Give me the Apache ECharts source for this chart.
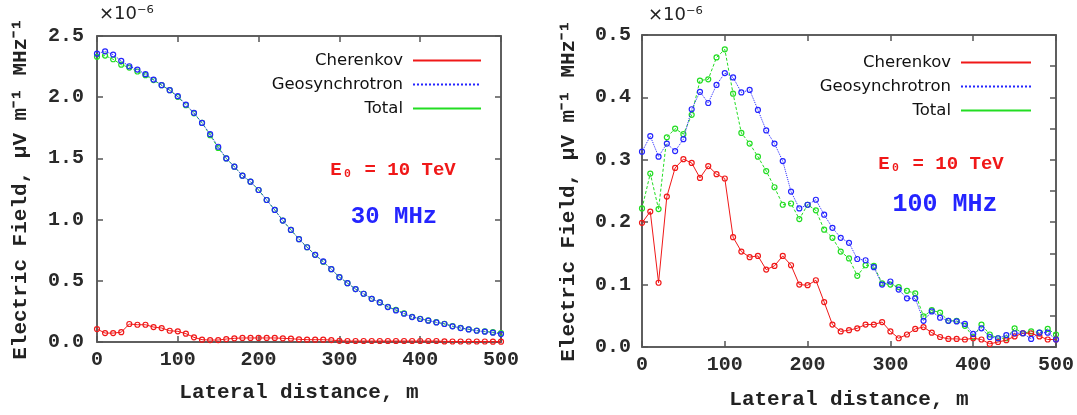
<!DOCTYPE html>
<html><head><meta charset="utf-8">
<script src="https://cdn.jsdelivr.net/npm/echarts@6/dist/echarts.min.js"></script>
<style>html,body{margin:0;padding:0;background:#fff}#c{width:1077px;height:415px}</style>
</head><body><div id="c"></div>
<script>
// Lateral distance (m)
const distance = [0,10,20,30,40,50,60,70,80,90,100,110,120,130,140,150,160,170,180,190,200,210,220,230,240,250,260,270,280,290,300,310,320,330,340,350,360,370,380,390,400,410,420,430,440,450,460,470,480,490,500];

// 30 MHz panel (x1e-6 µV m^-1 MHz^-1)
const cher30 = [0.106,0.073,0.073,0.080,0.147,0.141,0.141,0.122,0.114,0.092,0.087,0.068,0.038,0.019,0.016,0.016,0.024,0.030,0.033,0.033,0.033,0.033,0.033,0.030,0.027,0.022,0.019,0.019,0.019,0.016,0.010,0.008,0.008,0.008,0.008,0.008,0.008,0.008,0.008,0.008,0.008,0.008,0.008,0.005,0.004,0.004,0.004,0.004,0.004,0.003,0.003];
const geo30 = [2.356,2.375,2.348,2.296,2.253,2.226,2.188,2.144,2.098,2.057,2.008,1.940,1.872,1.790,1.698,1.595,1.500,1.432,1.359,1.310,1.242,1.160,1.079,0.992,0.916,0.840,0.774,0.712,0.658,0.595,0.530,0.481,0.432,0.394,0.353,0.323,0.285,0.258,0.231,0.204,0.188,0.174,0.160,0.147,0.128,0.114,0.103,0.092,0.084,0.076,0.065];
const total30 = [2.330,2.340,2.310,2.266,2.242,2.210,2.180,2.140,2.098,2.057,2.003,1.935,1.868,1.790,1.690,1.585,1.500,1.432,1.359,1.310,1.242,1.160,1.079,0.992,0.916,0.840,0.774,0.712,0.655,0.595,0.530,0.481,0.432,0.394,0.353,0.323,0.288,0.262,0.235,0.206,0.190,0.176,0.162,0.149,0.130,0.115,0.104,0.094,0.087,0.080,0.072];

// 100 MHz panel
const cher100 = [0.199,0.217,0.103,0.241,0.287,0.301,0.295,0.271,0.290,0.277,0.270,0.176,0.153,0.144,0.146,0.124,0.130,0.146,0.131,0.100,0.099,0.107,0.072,0.036,0.025,0.027,0.030,0.036,0.036,0.040,0.025,0.014,0.020,0.029,0.032,0.023,0.016,0.013,0.013,0.012,0.014,0.012,0.005,0.008,0.011,0.017,0.022,0.022,0.017,0.012,0.012];
const geo100 = [0.313,0.338,0.305,0.326,0.314,0.333,0.381,0.409,0.391,0.420,0.439,0.432,0.408,0.412,0.380,0.347,0.326,0.298,0.249,0.222,0.228,0.236,0.212,0.191,0.175,0.167,0.141,0.139,0.128,0.100,0.105,0.092,0.078,0.078,0.042,0.057,0.047,0.042,0.041,0.037,0.021,0.030,0.016,0.014,0.019,0.022,0.022,0.013,0.023,0.023,0.012];
const total100 = [0.222,0.278,0.221,0.336,0.350,0.341,0.372,0.427,0.429,0.464,0.477,0.406,0.343,0.326,0.305,0.282,0.256,0.228,0.230,0.205,0.228,0.219,0.188,0.175,0.153,0.142,0.114,0.131,0.130,0.102,0.100,0.096,0.090,0.086,0.049,0.059,0.055,0.042,0.042,0.034,0.016,0.036,0.020,0.014,0.014,0.030,0.022,0.025,0.023,0.029,0.020];

const seriesNames = ['Cherenkov','Geosynchrotron','Total'];
const colors = ['#f01818','#2424ff','#22dd22'];
const lineTypes = ['solid','dotted',[3,2]];

const mono = 'Liberation Mono';
const pts = ys => distance.map((d,i)=>[d, ys[i]]);

function mkSeries(idx, data, gi){
  return {
    name: seriesNames[idx], type:'line', xAxisIndex: gi*2, yAxisIndex: gi*2,
    data: pts(data), symbol:'circle', symbolSize:5, showSymbol:true,
    lineStyle:{color:colors[idx], width:1, type: lineTypes[idx]},
    itemStyle:{color:'rgba(255,255,255,0)', borderColor:colors[idx], borderWidth:1.2},
    emphasis:{disabled:true}, animation:false, z: idx===0?3:(idx===1?4:2)
  };
}

const gridPos = [
  {left:97, right:1077-501, top:36, bottom:415-342},
  {left:642, right:1077-1056, top:35, bottom:415-347}
];
const grids = gridPos.map(g => Object.assign({show:true, borderColor:'#555', borderWidth:1.5, backgroundColor:'transparent'}, g));
const yMax = [2.5, 0.5], yInt=[0.5,0.1], ySplit=[0.5,0.05];
const mkTick = () => ({show:true, inside:true, length:6, lineStyle:{color:'#555', width:1.5}});
const mkLine = () => ({show:true, onZero:false, lineStyle:{color:'#555', width:1.5}});

const xAxes=[], yAxes=[];
gridPos.forEach((g,gi)=>{
  xAxes.push({type:'value', gridIndex:gi, min:0, max:500, interval:100, position:'bottom',
    name:'Lateral distance, m', nameLocation:'middle', nameGap: gi===0?40:42,
    nameTextStyle:{fontFamily:mono, fontWeight:'bold', fontSize:21, color:'#222'},
    axisLine:mkLine(), axisTick:mkTick(),
    axisLabel:{fontFamily:mono, fontWeight:'bold', fontSize:20, color:'#2a2a2a', margin:8},
    splitLine:{show:false}});
  xAxes.push({type:'value', gridIndex:gi, min:0, max:500, interval:100, position:'top',
    axisLine:mkLine(), axisTick:mkTick(), axisLabel:{show:false}, splitLine:{show:false}});
  yAxes.push({type:'value', gridIndex:gi, min:0, max:yMax[gi], interval:yInt[gi], position:'left',
    name:'Electric Field, μV m⁻¹ MHz⁻¹', nameLocation:'middle', nameRotate:90, nameGap: gi===0?66:63,
    nameTextStyle:{fontFamily:mono, fontWeight:'bold', fontSize:21, color:'#222'},
    axisLine:mkLine(), axisTick:mkTick(),
    axisLabel:{fontFamily:mono, fontWeight:'bold', fontSize:20, color:'#2a2a2a', margin:gi===0?13:11, formatter:v=>v.toFixed(1)},
    splitLine:{show:false}});
  yAxes.push({type:'value', gridIndex:gi, min:0, max:yMax[gi], interval:ySplit[gi], position:'right',
    axisLine:mkLine(), axisTick:mkTick(), axisLabel:{show:false}, splitLine:{show:false}});
});

const legendBase = (right, top, w) => ({
  orient:'vertical', right: right, top: top, itemWidth:w, itemHeight:14, itemGap:7, align:'right',
  selectedMode:false,
  textStyle:{fontFamily:'DejaVu Sans', fontSize:16.5, color:'#111', width:150, align:'right', padding:[0,5,0,0]},
  itemStyle:{opacity:0},
  data:[
    {name:'Cherenkov', lineStyle:{type:'solid', width:2}},
    {name:'Geosynchrotron', lineStyle:{type:'dotted', width:2}},
    {name:'Total', lineStyle:{type:'solid', width:2}}
  ]
});

const option = {
  backgroundColor:'#fff',
  animation:false,
  color: colors,
  grid: grids,
  xAxis: xAxes,
  yAxis: yAxes,
  legend: [ legendBase(1077-482-5, 47, 68), legendBase(1077-1032-5, 49, 70) ],
  graphic: [
    {type:'text', left:99, top:5, style:{text:'×10⁻⁶', font:'18px "DejaVu Sans"', fill:'#222'}},
    {type:'text', left:648, top:6, style:{text:'×10⁻⁶', font:'18px "DejaVu Sans"', fill:'#222'}},
    {type:'text', x:393, y:170, style:{text:'E₀ = 10 TeV', font:'bold 19px "Liberation Mono"', fill:'#f01818', align:'center', verticalAlign:'middle'}},
    {type:'text', x:394, y:217, style:{text:'30 MHz', font:'bold 24px "Liberation Mono"', fill:'#2424ff', align:'center', verticalAlign:'middle'}},
    {type:'text', x:941, y:164, style:{text:'E₀ = 10 TeV', font:'bold 19px "Liberation Mono"', fill:'#f01818', align:'center', verticalAlign:'middle'}},
    {type:'text', x:945, y:205, style:{text:'100 MHz', font:'bold 25px "Liberation Mono"', fill:'#2424ff', align:'center', verticalAlign:'middle'}}
  ],
  series: [
    mkSeries(0, cher30, 0), mkSeries(1, geo30, 0), mkSeries(2, total30, 0),
    mkSeries(0, cher100, 1), mkSeries(1, geo100, 1), mkSeries(2, total100, 1)
  ]
};
const chart = echarts.init(document.getElementById('c'), null, {renderer:'canvas'});
chart.setOption(option);
</script></body></html>
